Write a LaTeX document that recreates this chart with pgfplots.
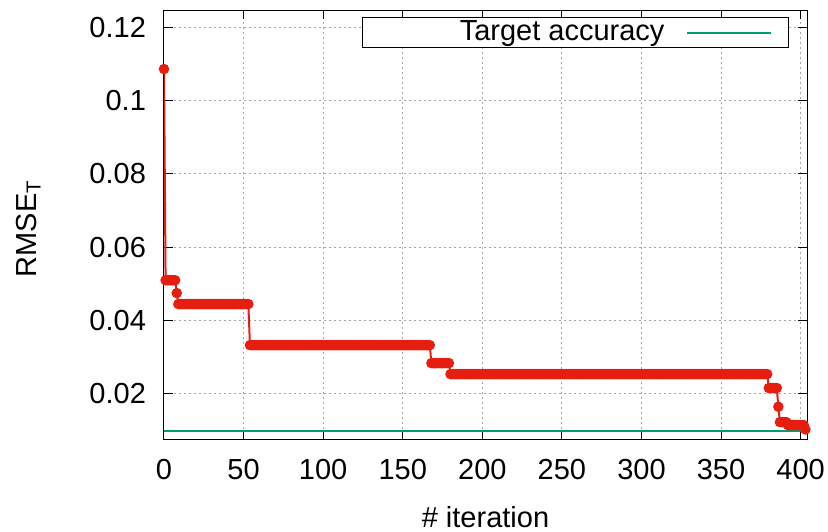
\documentclass[border=0pt]{standalone}
\usepackage{pgfplots}
\pgfplotsset{compat=1.18}
\usepackage{fontspec}
\setmainfont{Liberation Sans}
\definecolor{gpred}{HTML}{E51E10}
\definecolor{gpgreen}{HTML}{009E73}
\begin{document}
\fontsize{14.5}{17.4}\selectfont
\begin{tikzpicture}[font=\fontsize{14.5}{17.4}\selectfont]
\begin{axis}[
  name=ax,
  scale only axis,
  width=321.5pt, height=214.5pt,
  xmin=0, xmax=404,
  ymin=0.0077, ymax=0.1247,
  xtick={0,50,...,400},
  ytick={0.02,0.04,0.06,0.08,0.1,0.12},
  scaled y ticks=false,
  yticklabel style={/pgf/number format/fixed,/pgf/number format/precision=2},
  /pgf/number format/assume math mode=true,
  tick align=inside,
  xtick pos=both, ytick pos=both,
  major tick length=4.5pt,
  tick style={black, line width=0.5pt},
  axis line style={black, line width=0.5pt},
  grid=major,
  major grid style={gray!70, line width=0.5pt, dash pattern=on 1pt off 1.5pt},
  xticklabel style={yshift=-5pt},
  yticklabel style={xshift=-4pt},
  xlabel={\# iteration},
  ylabel={RMSE\textsubscript{T}},
  xlabel style={at={(axis description cs:0.5,0)}, anchor=base, yshift=-44pt},
  ylabel style={at={(axis description cs:-0.211,0.49)}, anchor=center},
  legend plot pos=right,
  legend image code/.code={\draw[#1] (0pt,0pt) -- (41.5pt,0pt); \path (50pt,0pt);},
  legend style={at={(0.972,0.984)}, anchor=north east, draw=black, line width=0.5pt,
    inner xsep=0pt, inner ysep=1.5pt, nodes={inner xsep=0pt, inner ysep=0pt}},
]
\addplot[gpred, line width=1pt, mark=*, mark size=2.1pt, mark options={fill=gpred, draw=gpred}, forget plot] coordinates {
(0,0.1086)
(1,0.051)(2,0.051)(3,0.051)(4,0.051)(5,0.051)(6,0.051)(7,0.051)
(8,0.0475)
(9,0.0445)(10,0.0445)(11,0.0445)(12,0.0445)(13,0.0445)(14,0.0445)(15,0.0445)(16,0.0445)(17,0.0445)(18,0.0445)
(19,0.0445)(20,0.0445)(21,0.0445)(22,0.0445)(23,0.0445)(24,0.0445)(25,0.0445)(26,0.0445)(27,0.0445)(28,0.0445)
(29,0.0445)(30,0.0445)(31,0.0445)(32,0.0445)(33,0.0445)(34,0.0445)(35,0.0445)(36,0.0445)(37,0.0445)(38,0.0445)
(39,0.0445)(40,0.0445)(41,0.0445)(42,0.0445)(43,0.0445)(44,0.0445)(45,0.0445)(46,0.0445)(47,0.0445)(48,0.0445)
(49,0.0445)(50,0.0445)(51,0.0445)(52,0.0445)(53,0.0445)
(54,0.0333)(55,0.0333)(56,0.0333)(57,0.0333)(58,0.0333)(59,0.0333)
(60,0.0333)(61,0.0333)(62,0.0333)(63,0.0333)(64,0.0333)(65,0.0333)(66,0.0333)(67,0.0333)(68,0.0333)(69,0.0333)
(70,0.0333)(71,0.0333)(72,0.0333)(73,0.0333)(74,0.0333)(75,0.0333)(76,0.0333)(77,0.0333)(78,0.0333)(79,0.0333)
(80,0.0333)(81,0.0333)(82,0.0333)(83,0.0333)(84,0.0333)(85,0.0333)(86,0.0333)(87,0.0333)(88,0.0333)(89,0.0333)
(90,0.0333)(91,0.0333)(92,0.0333)(93,0.0333)(94,0.0333)(95,0.0333)(96,0.0333)(97,0.0333)(98,0.0333)(99,0.0333)
(100,0.0333)(101,0.0333)(102,0.0333)(103,0.0333)(104,0.0333)(105,0.0333)(106,0.0333)(107,0.0333)(108,0.0333)(109,0.0333)
(110,0.0333)(111,0.0333)(112,0.0333)(113,0.0333)(114,0.0333)(115,0.0333)(116,0.0333)(117,0.0333)(118,0.0333)(119,0.0333)
(120,0.0333)(121,0.0333)(122,0.0333)(123,0.0333)(124,0.0333)(125,0.0333)(126,0.0333)(127,0.0333)(128,0.0333)(129,0.0333)
(130,0.0333)(131,0.0333)(132,0.0333)(133,0.0333)(134,0.0333)(135,0.0333)(136,0.0333)(137,0.0333)(138,0.0333)(139,0.0333)
(140,0.0333)(141,0.0333)(142,0.0333)(143,0.0333)(144,0.0333)(145,0.0333)(146,0.0333)(147,0.0333)(148,0.0333)(149,0.0333)
(150,0.0333)(151,0.0333)(152,0.0333)(153,0.0333)(154,0.0333)(155,0.0333)(156,0.0333)(157,0.0333)(158,0.0333)(159,0.0333)
(160,0.0333)(161,0.0333)(162,0.0333)(163,0.0333)(164,0.0333)(165,0.0333)(166,0.0333)(167,0.0333)
(168,0.0284)(169,0.0284)(170,0.0284)(171,0.0284)(172,0.0284)(173,0.0284)(174,0.0284)(175,0.0284)(176,0.0284)(177,0.0284)(178,0.0284)(179,0.0284)
(180,0.0254)(181,0.0254)(182,0.0254)(183,0.0254)(184,0.0254)(185,0.0254)(186,0.0254)(187,0.0254)(188,0.0254)(189,0.0254)
(190,0.0254)(191,0.0254)(192,0.0254)(193,0.0254)(194,0.0254)(195,0.0254)(196,0.0254)(197,0.0254)(198,0.0254)(199,0.0254)
(200,0.0254)(201,0.0254)(202,0.0254)(203,0.0254)(204,0.0254)(205,0.0254)(206,0.0254)(207,0.0254)(208,0.0254)(209,0.0254)
(210,0.0254)(211,0.0254)(212,0.0254)(213,0.0254)(214,0.0254)(215,0.0254)(216,0.0254)(217,0.0254)(218,0.0254)(219,0.0254)
(220,0.0254)(221,0.0254)(222,0.0254)(223,0.0254)(224,0.0254)(225,0.0254)(226,0.0254)(227,0.0254)(228,0.0254)(229,0.0254)
(230,0.0254)(231,0.0254)(232,0.0254)(233,0.0254)(234,0.0254)(235,0.0254)(236,0.0254)(237,0.0254)(238,0.0254)(239,0.0254)
(240,0.0254)(241,0.0254)(242,0.0254)(243,0.0254)(244,0.0254)(245,0.0254)(246,0.0254)(247,0.0254)(248,0.0254)(249,0.0254)
(250,0.0254)(251,0.0254)(252,0.0254)(253,0.0254)(254,0.0254)(255,0.0254)(256,0.0254)(257,0.0254)(258,0.0254)(259,0.0254)
(260,0.0254)(261,0.0254)(262,0.0254)(263,0.0254)(264,0.0254)(265,0.0254)(266,0.0254)(267,0.0254)(268,0.0254)(269,0.0254)
(270,0.0254)(271,0.0254)(272,0.0254)(273,0.0254)(274,0.0254)(275,0.0254)(276,0.0254)(277,0.0254)(278,0.0254)(279,0.0254)
(280,0.0254)(281,0.0254)(282,0.0254)(283,0.0254)(284,0.0254)(285,0.0254)(286,0.0254)(287,0.0254)(288,0.0254)(289,0.0254)
(290,0.0254)(291,0.0254)(292,0.0254)(293,0.0254)(294,0.0254)(295,0.0254)(296,0.0254)(297,0.0254)(298,0.0254)(299,0.0254)
(300,0.0254)(301,0.0254)(302,0.0254)(303,0.0254)(304,0.0254)(305,0.0254)(306,0.0254)(307,0.0254)(308,0.0254)(309,0.0254)
(310,0.0254)(311,0.0254)(312,0.0254)(313,0.0254)(314,0.0254)(315,0.0254)(316,0.0254)(317,0.0254)(318,0.0254)(319,0.0254)
(320,0.0254)(321,0.0254)(322,0.0254)(323,0.0254)(324,0.0254)(325,0.0254)(326,0.0254)(327,0.0254)(328,0.0254)(329,0.0254)
(330,0.0254)(331,0.0254)(332,0.0254)(333,0.0254)(334,0.0254)(335,0.0254)(336,0.0254)(337,0.0254)(338,0.0254)(339,0.0254)
(340,0.0254)(341,0.0254)(342,0.0254)(343,0.0254)(344,0.0254)(345,0.0254)(346,0.0254)(347,0.0254)(348,0.0254)(349,0.0254)
(350,0.0254)(351,0.0254)(352,0.0254)(353,0.0254)(354,0.0254)(355,0.0254)(356,0.0254)(357,0.0254)(358,0.0254)(359,0.0254)
(360,0.0254)(361,0.0254)(362,0.0254)(363,0.0254)(364,0.0254)(365,0.0254)(366,0.0254)(367,0.0254)(368,0.0254)(369,0.0254)
(370,0.0254)(371,0.0254)(372,0.0254)(373,0.0254)(374,0.0254)(375,0.0254)(376,0.0254)(377,0.0254)(378,0.0254)(379,0.0254)
(380,0.0216)(381,0.0216)(382,0.0216)(383,0.0216)(384,0.0216)(385,0.0216)
(386,0.0165)
(387,0.0123)(388,0.0123)(389,0.0123)(390,0.0123)(391,0.0123)
(392,0.0115)(393,0.0115)(394,0.0115)(395,0.0115)(396,0.0115)(397,0.0115)(398,0.0115)(399,0.0115)(400,0.0115)(401,0.0115)(402,0.0115)
(403,0.0103)
};
\addplot[gpgreen, line width=1pt] coordinates {(0,0.01)(404,0.01)};
\addlegendentry{\makebox[162pt][r]{Target accuracy\hspace{11pt}}}
\end{axis}
\pgfresetboundingbox
\path[use as bounding box] ([xshift=-82pt,yshift=-46pt]ax.south west) rectangle ([xshift=10.5pt,yshift=5pt]ax.north east);
\end{tikzpicture}
\end{document}
